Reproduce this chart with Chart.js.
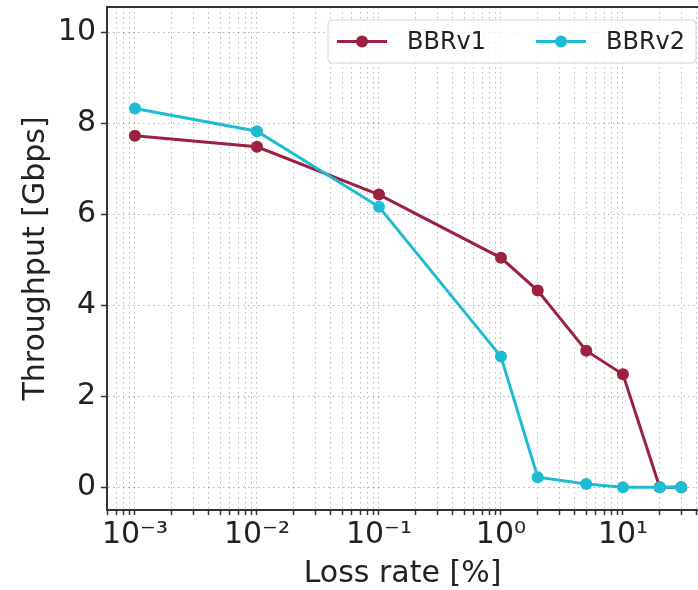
<!DOCTYPE html>
<html lang="en">
<head>
<meta charset="UTF-8">
<title>Throughput vs loss rate</title>
<script src="https://cdn.jsdelivr.net/npm/chart.js@4.4.1/dist/chart.umd.min.js"></script>
<style>
    html, body { margin: 0; padding: 0; background: #fff; overflow: hidden; }
    #wrap { width: 698px; height: 590px; }
    #myChart { display: block; }
</style>
</head>
<body>
<div id="wrap"><canvas id="myChart" width="698" height="590"></canvas></div>
<script>
// values
var lossRates = [0.001, 0.01, 0.1, 1, 2, 5, 10, 20, 30];   // loss rate [%]
var bbrv1 = [7.72, 7.48, 6.43, 5.04, 4.32, 3.0, 2.48, 0, 0];
var bbrv2 = [8.32, 7.82, 6.16, 2.87, 0.22, 0.07, 0.0, 0.0, 0.0];
var seriesNames = ['BBRv1', 'BBRv2'];
var seriesColors = ['#9c2141', '#1dbcd3'];
var yTicks = [0, 2, 4, 6, 8, 10];
var xDecades = [-4, -3, -2, -1, 0, 1];
var xMin = 5.9e-4, xMax = 41.2;
var yMin = -0.5, yMax = 10.55;

// every log tick (1..9 per decade) gets a grid line, only powers of ten get a label
var xTickValues = [];
xDecades.forEach(function (k) {
    for (var m = 1; m <= 9; m++) {
        var v = parseFloat((m * Math.pow(10, k)).toPrecision(6));
        if (v >= xMin && v <= xMax) xTickValues.push(v);
    }
});

var supMap = {'-': '\u207B', '0': '\u2070', '1': '\u00B9', '2': '\u00B2', '3': '\u00B3',
              '4': '\u2074', '5': '\u2075', '6': '\u2076', '7': '\u2077', '8': '\u2078', '9': '\u2079'};
function powLabel(value) {
    var e = Math.log10(value);
    if (Math.abs(e - Math.round(e)) > 1e-9) return '';
    return '10' + String(Math.round(e)).split('').map(function (c) { return supMap[c]; }).join('');
}

function toPoints(ys) {
    return lossRates.map(function (x, i) { return {x: x, y: ys[i]}; });
}

// top spine + framed legend with line-and-marker samples
var extras = {
    id: 'extras',
    afterDatasetsDraw: function (chart) {
        var ctx = chart.ctx, area = chart.chartArea;
        ctx.save();
        ctx.strokeStyle = '#333';
        ctx.lineWidth = 2;
        ctx.beginPath();
        ctx.moveTo(area.left - 1, area.top);
        ctx.lineTo(chart.width, area.top);
        ctx.stroke();

        var x0 = area.right - 370, y0 = area.top + 13, w = 368, h = 43;
        ctx.beginPath();
        ctx.roundRect(x0, y0, w, h, 4);
        ctx.fillStyle = 'rgba(255,255,255,0.8)';
        ctx.fill();
        ctx.strokeStyle = '#d4d4d4';
        ctx.lineWidth = 1;
        ctx.stroke();

        var cy = y0 + h / 2;
        ctx.font = '24px "DejaVu Sans"';
        ctx.textBaseline = 'middle';
        chart.data.datasets.forEach(function (ds, i) {
            var lx = x0 + 9 + i * 199;
            ctx.strokeStyle = ds.borderColor;
            ctx.lineWidth = 3;
            ctx.beginPath();
            ctx.moveTo(lx, cy);
            ctx.lineTo(lx + 50, cy);
            ctx.stroke();
            ctx.fillStyle = ds.borderColor;
            ctx.beginPath();
            ctx.arc(lx + 25, cy, 6, 0, Math.PI * 2);
            ctx.fill();
            ctx.fillStyle = '#222';
            ctx.fillText(ds.label, lx + 70, cy + 1);
        });
        ctx.restore();
    }
};

var tickFont = {family: 'DejaVu Sans', size: 30};

var chart = new Chart(document.getElementById('myChart'), {
    type: 'line',
    data: {
        datasets: [
            {
                label: seriesNames[0], data: toPoints(bbrv1), order: 1,
                borderColor: seriesColors[0], backgroundColor: seriesColors[0],
                borderWidth: 3, pointRadius: 6, pointBorderWidth: 0, tension: 0
            },
            {
                label: seriesNames[1], data: toPoints(bbrv2), order: 0,
                borderColor: seriesColors[1], backgroundColor: seriesColors[1],
                borderWidth: 3, pointRadius: 6, pointBorderWidth: 0, tension: 0
            }
        ]
    },
    options: {
        responsive: false,
        animation: false,
        devicePixelRatio: 1,
        layout: { autoPadding: false, padding: { top: 7, right: 0, bottom: 0, left: 0 } },
        plugins: { legend: { display: false }, tooltip: { enabled: false } },
        scales: {
            x: {
                type: 'logarithmic',
                min: xMin,
                max: xMax,
                afterBuildTicks: function (scale) {
                    scale.ticks = xTickValues.map(function (v) { return {value: v}; });
                },
                afterFit: function (scale) {
                    scale.height = 80;
                    scale.paddingLeft = 0;
                    scale.paddingRight = 0;
                },
                ticks: {
                    autoSkip: false, maxRotation: 0, minRotation: 0, padding: 2,
                    color: '#222', font: tickFont,
                    callback: function (value) { return powLabel(value); }
                },
                grid: { color: 'rgba(0,0,0,0.27)', lineWidth: 1, tickLength: 5, tickColor: '#333', tickWidth: 1.5 },
                border: { color: '#333', width: 2, dash: [1.5, 3.5] },
                title: {
                    display: true, text: 'Loss rate [%]', color: '#222',
                    font: {family: 'DejaVu Sans', size: 30, lineHeight: 1},
                    padding: {top: 0, bottom: 1}
                }
            },
            y: {
                min: yMin,
                max: yMax,
                afterBuildTicks: function (scale) {
                    scale.ticks = yTicks.map(function (v) { return {value: v}; });
                },
                afterFit: function (scale) {
                    scale.width = 107;
                    scale.paddingTop = 0;
                    scale.paddingBottom = 0;
                },
                ticks: { padding: 5, color: '#222', font: tickFont },
                grid: { color: 'rgba(0,0,0,0.3)', lineWidth: 1, tickLength: 6, tickColor: '#333', tickWidth: 1.5 },
                border: { color: '#333', width: 2, dash: [1.5, 3.5] },
                title: {
                    display: true, text: 'Throughput [Gbps]', color: '#222',
                    font: {family: 'DejaVu Sans', size: 30, lineHeight: 1},
                    padding: {top: 21, bottom: 0}
                }
            }
        }
    },
    plugins: [extras]
});
</script>
</body>
</html>
